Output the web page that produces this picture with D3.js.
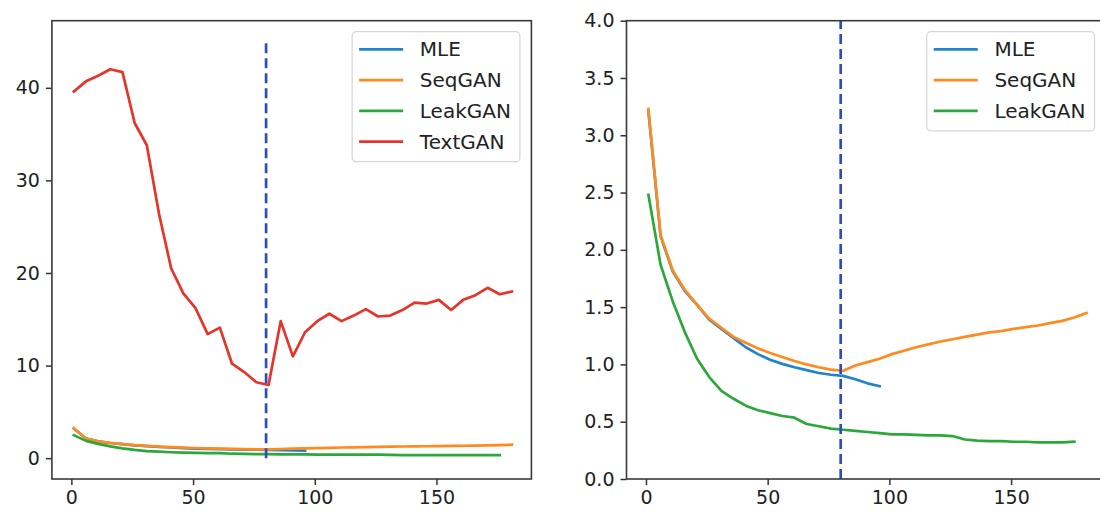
<!DOCTYPE html>
<html>
<head>
<meta charset="utf-8">
<script src="https://cdn.jsdelivr.net/npm/d3@7/dist/d3.min.js"></script>
<style>
  html, body { margin: 0; padding: 0; background: #ffffff; }
  svg { display: block; font-family: "DejaVu Sans", sans-serif; }
</style>
</head>
<body>
<svg id="chart" width="1100" height="512"></svg>
<script>
// Training epochs at which each model was evaluated
const epochs = [1, 6, 11, 16, 21, 26, 31, 36, 41, 46, 51, 56, 61, 66, 71, 76, 81, 86, 91,
                96, 101, 106, 111, 116, 121, 126, 131, 136, 141, 146, 151, 156, 161, 166,
                171, 176, 181];

// Per-model values (one per epoch, shorter runs stop early)
const mle = [3.21, 2.12, 1.81, 1.64, 1.52, 1.39, 1.31, 1.23, 1.15, 1.09, 1.04, 1.005,
             0.975, 0.95, 0.925, 0.91, 0.90, 0.87, 0.835, 0.81];
const seqgan = [3.23, 2.13, 1.82, 1.65, 1.52, 1.40, 1.32, 1.24, 1.19, 1.14, 1.10, 1.065,
                1.03, 1.00, 0.975, 0.955, 0.945, 0.99, 1.02, 1.05, 1.09, 1.12, 1.15, 1.175,
                1.20, 1.22, 1.24, 1.26, 1.28, 1.29, 1.31, 1.325, 1.34, 1.36, 1.38, 1.41, 1.45];
const leakgan = [2.48, 1.87, 1.55, 1.28, 1.05, 0.89, 0.77, 0.70, 0.64, 0.60, 0.575, 0.55,
                 0.535, 0.48, 0.46, 0.44, 0.43, 0.42, 0.41, 0.40, 0.39, 0.39, 0.385, 0.38,
                 0.38, 0.375, 0.345, 0.335, 0.33, 0.33, 0.325, 0.325, 0.32, 0.32, 0.32, 0.325];
const textgan = [39.6, 40.7, 41.3, 42.0, 41.7, 36.2, 33.8, 26.4, 20.5, 17.8, 16.2, 13.4,
                 14.1, 10.2, 9.3, 8.2, 7.9, 14.8, 11.0, 13.6, 14.8, 15.6, 14.8, 15.4, 16.1,
                 15.3, 15.4, 16.0, 16.8, 16.7, 17.1, 16.0, 17.1, 17.6, 18.4, 17.7, 18.0];

// Epoch marked by the vertical dashed line, and its vertical extent per panel
const markEpoch = 80;
const markTopLeft = 45;
const markTopRight = 4;

// Axis ticks
const xTicks = [0, 50, 100, 150];
const yTicksLeft = [0, 10, 20, 30, 40];
const yTicksRight = [0, 0.5, 1.0, 1.5, 2.0, 2.5, 3.0, 3.5, 4.0];

const seriesNames = ["MLE", "SeqGAN", "LeakGAN", "TextGAN"];
const seriesColors = ["#1f84cc", "#ff8a1e", "#2ca83a", "#e5352b"];
const seriesValues = [mle, seqgan, leakgan, textgan];

const svg = d3.select("#chart");

function drawPanel(opts) {
  const { x0, x1, y0, y1, yDomain, yTicks, yFormat, series, markTop } = opts;
  const g = svg.append("g");

  const x = d3.scaleLinear().domain([-8, 189]).range([x0, x1]);
  const y = d3.scaleLinear().domain(yDomain).range([y1, y0]);

  const clipId = "clip" + Math.round(x0);
  g.append("clipPath").attr("id", clipId)
    .append("rect").attr("x", x0).attr("y", y0).attr("width", x1 - x0).attr("height", y1 - y0);

  const plot = g.append("g").attr("clip-path", `url(#${clipId})`);

  const line = d3.line()
    .x((d, i) => x(epochs[i]))
    .y(d => y(d));

  series.forEach(s => {
    plot.append("path")
      .datum(s.values)
      .attr("fill", "none")
      .attr("stroke", s.color)
      .attr("stroke-width", 2.7)
      .attr("stroke-linejoin", "round")
      .attr("stroke-linecap", "square")
      .attr("d", line);
  });

  // vertical dashed marker
  plot.append("line")
    .attr("x1", x(markEpoch)).attr("x2", x(markEpoch))
    .attr("y1", y(0)).attr("y2", y(markTop))
    .attr("stroke", "#2a4fbd")
    .attr("stroke-width", 2.7)
    .attr("stroke-dasharray", "10,5");

  // axes
  const axisStyle = sel => {
    sel.selectAll(".domain").remove();
    sel.selectAll(".tick line").attr("stroke", "#333").attr("stroke-width", 1.5);
    sel.selectAll(".tick text").attr("fill", "#222").style("font-size", "19px")
      .style("font-family", "'DejaVu Sans', sans-serif");
  };

  g.append("g")
    .attr("transform", `translate(0,${y1})`)
    .call(d3.axisBottom(x).tickValues(xTicks).tickSize(6).tickPadding(6).tickFormat(d3.format("d")))
    .call(axisStyle);

  g.append("g")
    .attr("transform", `translate(${x0},0)`)
    .call(d3.axisLeft(y).tickValues(yTicks).tickSize(6).tickPadding(6).tickFormat(yFormat))
    .call(axisStyle);

  // frame
  g.append("rect")
    .attr("x", x0).attr("y", y0)
    .attr("width", x1 - x0).attr("height", y1 - y0)
    .attr("fill", "none")
    .attr("stroke", "#3a3a3a")
    .attr("stroke-width", 1.6);

  // legend
  const fs = 20;
  const rowGap = 30.8;
  const lg = g.append("g");
  const box = lg.append("rect")
    .attr("fill", "#ffffff").attr("fill-opacity", 0.85)
    .attr("stroke", "#d6d6d6").attr("stroke-width", 1.2)
    .attr("rx", 4);
  const texts = [];
  series.forEach((s, i) => {
    const cy = 17.6 + i * rowGap;
    lg.append("line")
      .attr("x1", 7).attr("x2", 51)
      .attr("y1", cy).attr("y2", cy)
      .attr("stroke", s.color).attr("stroke-width", 2.7);
    const t = lg.append("text")
      .attr("x", 67.7).attr("y", cy).attr("dy", "0.36em")
      .attr("fill", "#222")
      .style("font-size", fs + "px")
      .text(s.name);
    texts.push(t);
  });
  const maxW = d3.max(texts, t => t.node().getComputedTextLength());
  const bw = 67.7 + maxW + 9;
  const bh = 17.6 + (series.length - 1) * rowGap + 20;
  box.attr("x", 0).attr("y", 0).attr("width", bw).attr("height", bh);
  lg.attr("transform", `translate(${x1 - 11.5 - bw},${y0 + 11})`);
}

const leftSeries = seriesNames.map((n, i) => ({ name: n, color: seriesColors[i], values: seriesValues[i] }));
const rightSeries = leftSeries.slice(0, 3);

drawPanel({
  x0: 51.9, x1: 531.4, y0: 20.7, y1: 479,
  yDomain: [-2.25, 47.25], yTicks: yTicksLeft, yFormat: d3.format("d"),
  series: leftSeries, markTop: markTopLeft
});

drawPanel({
  x0: 626.5, x1: 1106, y0: 20.7, y1: 479,
  yDomain: [0, 4], yTicks: yTicksRight, yFormat: d3.format(".1f"),
  series: rightSeries, markTop: markTopRight
});
</script>
</body>
</html>
